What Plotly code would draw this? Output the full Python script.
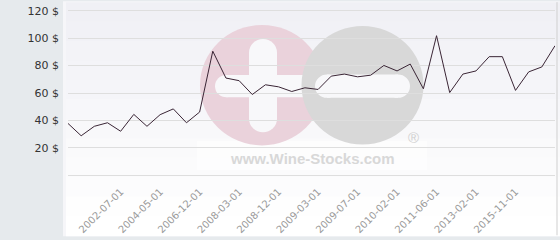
import plotly.graph_objects as go

# ---- data ----
PRICES = [37.8, 28.8, 35.7, 38.3, 32.1, 44.4, 35.7, 44.2, 48.4, 38.3,
          46.1, 90.5, 70.9, 69.0, 58.9, 66.0, 64.5, 61.1, 63.8, 62.6,
          72.3, 73.8, 71.8, 73.0, 80.1, 76.1, 81.1, 63.1, 101.8, 60.3,
          73.8, 76.1, 86.5, 86.5, 61.9, 75.4, 79.0, 94.5]
TICK_LABELS = ["2002-07-01", "2004-05-01", "2006-12-01", "2008-03-01",
               "2008-12-01", "2009-03-01", "2009-07-01", "2010-02-01",
               "2011-06-01", "2013-02-01", "2015-11-01"]
TICK_INDEX = [4, 7, 10, 13, 16, 19, 22, 25, 28, 31, 34]
Y_TICKS = [0, 20, 40, 60, 80, 100, 120]
Y_TICK_TEXT = ["", "20 $", "40 $", "60 $", "80 $", "100 $", "120 $"]

# ---- layout geometry (pixels) ----
W, H = 560, 240
ML, MR, MT, MB = 68, 5, 6, 59
PW = W - ML - MR
PH = H - MT - MB


def xp(px):
    return (px - ML) / PW


def yp(py):
    return (H - MB - py) / PH


idx = list(range(len(PRICES)))

fig = go.Figure()
fig.add_trace(go.Scatter(x=idx, y=PRICES, mode="lines",
                         line=dict(color="#3a2535", width=1),
                         hoverinfo="skip", showlegend=False))

shapes = []
# thin light strip next to the grey panel
shapes.append(dict(type="rect", xref="paper", yref="paper", layer="below",
                   x0=xp(63), x1=xp(W + 2), y0=yp(H + 1), y1=yp(-1),
                   fillcolor="#f6f6f9", line=dict(width=0)))
# plot background with subtle vertical gradient
N = 12
top_c = (240, 240, 245)
bot_c = (255, 255, 255)
for i in range(N):
    t = i / (N - 1)
    c = tuple(round(top_c[k] + (bot_c[k] - top_c[k]) * t) for k in range(3))
    shapes.append(dict(type="rect", xref="paper", yref="paper", layer="below",
                       x0=xp(66), x1=xp(W + 2), y0=yp(H * (i + 1) / N + 1), y1=yp(H * i / N),
                       fillcolor="rgb(%d,%d,%d)" % c, line=dict(width=0)))

PINK = "rgb(234,210,219)"
GREY = "rgb(216,216,216)"
HOLE = "rgb(248,248,250)"


def circle(cx, cy, r, color):
    return dict(type="circle", xref="paper", yref="paper", layer="below",
                x0=xp(cx - r), x1=xp(cx + r), y0=yp(cy + r), y1=yp(cy - r),
                fillcolor=color, line=dict(width=0))


def rect(x0, y0, x1, y1, color, opacity=1.0):
    return dict(type="rect", xref="paper", yref="paper", layer="below",
                x0=xp(x0), x1=xp(x1), y0=yp(y1), y1=yp(y0), opacity=opacity,
                fillcolor=color, line=dict(width=0))


# faint white box behind the watermark text
shapes.append(rect(197, 143, 427, 173, "white", 0.6))
# pink circle with a plus
shapes.append(circle(262, 85.5, 62, PINK))
shapes.append(rect(249, 52, 277, 120, HOLE))
shapes.append(circle(263, 52, 14, HOLE))
shapes.append(circle(263, 120, 14, HOLE))
shapes.append(rect(226.5, 75, 320, 98, HOLE))
shapes.append(circle(226.5, 86.5, 11.5, HOLE))
# grey circle with a minus
shapes.append(circle(362.5, 85.5, 61, GREY))
shapes.append(rect(327, 74.5, 398, 98.5, HOLE))
shapes.append(circle(327, 86.5, 12, HOLE))
shapes.append(circle(398, 86.5, 12, HOLE))
# right border
shapes.append(dict(type="line", xref="paper", yref="paper", layer="above",
                   x0=xp(557), x1=xp(557), y0=yp(H), y1=yp(0),
                   line=dict(color="#cfcfcf", width=1)))

annotations = [
    dict(text="<b>www.Wine-Stocks.com</b>", xref="paper", yref="paper",
         x=xp(312), y=yp(161), showarrow=False, xanchor="center", yanchor="middle",
         font=dict(family="Liberation Sans", size=15, color="rgb(216,216,216)")),
    dict(text="®", xref="paper", yref="paper",
         x=xp(413), y=yp(139), showarrow=False, xanchor="center", yanchor="middle",
         font=dict(family="Liberation Sans", size=15, color="rgb(208,208,208)")),
]

fig.update_layout(
    width=W, height=H,
    margin=dict(l=ML, r=MR, t=MT, b=MB, pad=0),
    paper_bgcolor="#e6eaed",
    plot_bgcolor="rgba(0,0,0,0)",
    shapes=shapes,
    annotations=annotations,
    showlegend=False,
    xaxis=dict(range=[0, len(PRICES) - 1], tickmode="array", tickvals=TICK_INDEX,
               ticktext=TICK_LABELS, tickangle=-45, showgrid=False, zeroline=False,
               showline=False, ticks="", ticklabelstandoff=5,
               tickfont=dict(family="DejaVu Sans", size=10, color="#9a9a9a")),
    yaxis=dict(range=[-2, 122], tickmode="array", tickvals=Y_TICKS, ticktext=Y_TICK_TEXT,
               showgrid=True, gridcolor="#dedede", gridwidth=1, zeroline=False,
               showline=False, ticks="", ticklabelstandoff=8,
               tickfont=dict(family="DejaVu Sans", size=11, color="#333333")),
)

fig.write_html("out.html")
